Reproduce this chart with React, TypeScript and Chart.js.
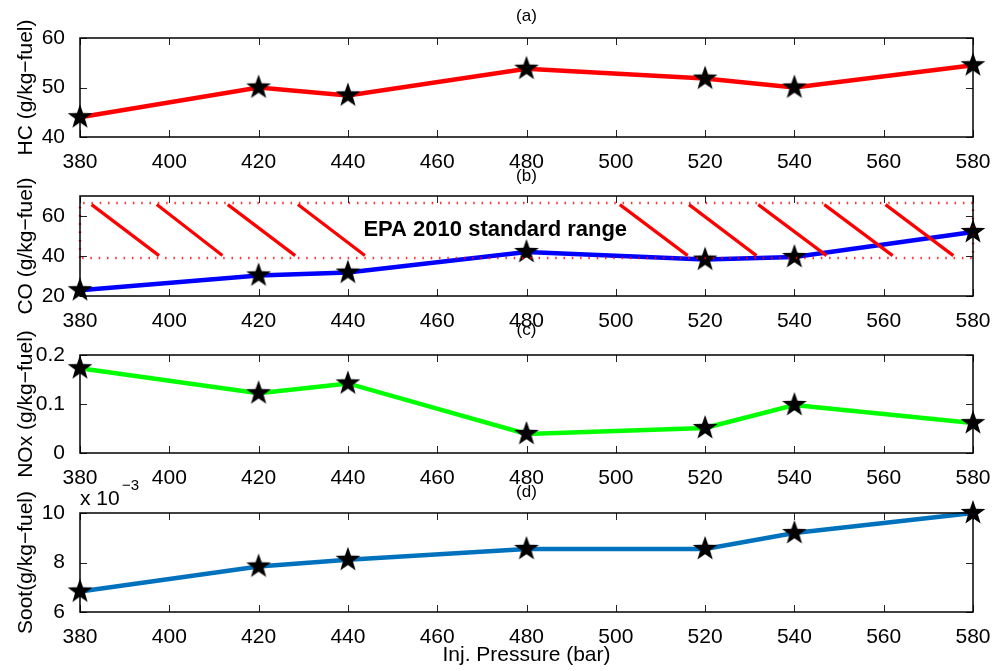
import React, { useEffect, useRef } from 'react';
import { Chart, registerables } from 'chart.js';
Chart.register(...registerables);

// ---------------- DATA ----------------
const PRESSURE = [380, 420, 440, 480, 520, 540, 580];
const HC = [44.0, 50.0, 48.4, 53.8, 51.8, 50.0, 54.5];
const CO = [22.9, 30.3, 31.7, 42.0, 38.2, 39.5, 52.0];
const NOX = [0.173, 0.122, 0.142, 0.039, 0.051, 0.098, 0.061];
const SOOT = [0.00683, 0.00784, 0.00811, 0.00855, 0.00855, 0.00919, 0.0100];

const X_TICKS = [380, 400, 420, 440, 460, 480, 500, 520, 540, 560, 580];
const X_TICK_LABELS = ['380', '400', '420', '440', '460', '480', '500', '520', '540', '560', '580'];
const HC_TICKS = [40, 50, 60];
const HC_TICK_LABELS = ['40', '50', '60'];
const CO_TICKS = [20, 40, 60];
const CO_TICK_LABELS = ['20', '40', '60'];
const NOX_TICKS = [0, 0.1, 0.2];
const NOX_TICK_LABELS = ['0', '0.1', '0.2'];
const SOOT_TICKS = [0.006, 0.008, 0.010];
const SOOT_TICK_LABELS = ['6', '8', '10'];

// EPA 2010 standard range (CO)
const EPA_LOW = 39;
const EPA_HIGH = 66.5;
const HATCH_START = [382.6, 397.2, 413.1, 428.8, 500.9, 516.4, 531.9, 546.7, 560.4];
const HATCH_END = [397.7, 411.9, 428.2, 443.8, 516.1, 531.5, 547.2, 562.0, 575.6];
const HATCH_TOP = 65.7;
const HATCH_BOTTOM = 40.2;
const EPA_LABEL = 'EPA 2010 standard range';
const EPA_LABEL_X = 473;
const EPA_LABEL_Y = 53;

// ---------------- LAYOUT / STYLE ----------------
const W = 996;
const H = 671;
const LEFT = 80;
const RIGHT = 973;
const YW = 60;
const XH = 34;
const FONT = '"Liberation Sans", Arial, Helvetica, sans-serif';

function makeStar(r: number) {
  const c = document.createElement('canvas');
  const s = Math.ceil(r * 2 + 4);
  c.width = s;
  c.height = s;
  const ctx = c.getContext('2d')!;
  ctx.translate(s / 2, s / 2);
  ctx.beginPath();
  const ri = r * 0.4;
  for (let i = 0; i < 10; i++) {
    const rad = i % 2 === 0 ? r : ri;
    const a = -Math.PI / 2 + (i * Math.PI) / 5;
    const x = rad * Math.cos(a);
    const y = rad * Math.sin(a);
    if (i === 0) ctx.moveTo(x, y);
    else ctx.lineTo(x, y);
  }
  ctx.closePath();
  ctx.fillStyle = '#000';
  ctx.fill();
  return c;
}

type Panel = {
  top: number;
  bottom: number;
  values: number[];
  color: string;
  yMin: number;
  yMax: number;
  yTicks: number[];
  yLabels: string[];
  title: string;
  titleY: number;
  yTitle: string;
  extra?: 'epa';
  exponent?: boolean;
  xTitle?: boolean;
};

const PANELS: Panel[] = [
  { top: 38, bottom: 137, values: HC, color: '#ff0000', yMin: 40, yMax: 60, yTicks: HC_TICKS, yLabels: HC_TICK_LABELS, title: '(a)', titleY: 16, yTitle: 'HC (g/kg\u2212fuel)' },
  { top: 196, bottom: 296, values: CO, color: '#0000ff', yMin: 20, yMax: 70, yTicks: CO_TICKS, yLabels: CO_TICK_LABELS, title: '(b)', titleY: 176, yTitle: 'CO (g/kg\u2212fuel)', extra: 'epa' },
  { top: 355, bottom: 453, values: NOX, color: '#00ff00', yMin: 0, yMax: 0.2, yTicks: NOX_TICKS, yLabels: NOX_TICK_LABELS, title: '(c)', titleY: 330, yTitle: 'NOx (g/kg\u2212fuel)' },
  { top: 513, bottom: 612, values: SOOT, color: '#0072BD', yMin: 0.006, yMax: 0.010, yTicks: SOOT_TICKS, yLabels: SOOT_TICK_LABELS, title: '(d)', titleY: 492, yTitle: 'Soot(g/kg\u2212fuel)', exponent: true, xTitle: true },
];

const framePlugin = {
  id: 'frame',
  afterDatasetsDraw(chart: any) {
    const { ctx, chartArea } = chart;
    const { left, right, top, bottom } = chartArea;
    const xs = chart.scales.x;
    const ys = chart.scales.y;
    ctx.save();
    ctx.strokeStyle = '#222';
    ctx.lineWidth = 1;
    const TL = 7;
    ctx.beginPath();
    xs.ticks.forEach((t: any) => {
      const px = Math.round(xs.getPixelForValue(t.value)) + 0.5;
      ctx.moveTo(px, bottom);
      ctx.lineTo(px, bottom - TL);
      ctx.moveTo(px, top);
      ctx.lineTo(px, top + TL);
    });
    ys.ticks.forEach((t: any) => {
      const py = Math.round(ys.getPixelForValue(t.value)) + 0.5;
      ctx.moveTo(left, py);
      ctx.lineTo(left + TL, py);
      ctx.moveTo(right, py);
      ctx.lineTo(right - TL, py);
    });
    ctx.stroke();
    ctx.strokeStyle = '#000';
    ctx.lineWidth = 1.5;
    ctx.strokeRect(left, top, right - left, bottom - top);
    ctx.restore();
  },
};

function textPlugin(p: Panel) {
  return {
    id: 'texts',
    afterDraw(chart: any) {
      const { ctx, chartArea } = chart;
      ctx.save();
      ctx.fillStyle = '#000';
      // panel title
      ctx.font = `17px ${FONT}`;
      ctx.textAlign = 'center';
      ctx.textBaseline = 'middle';
      ctx.fillText(p.title, (chartArea.left + chartArea.right) / 2, p.titleY);
      // y title
      ctx.save();
      ctx.font = `21px ${FONT}`;
      ctx.translate(26, (chartArea.top + chartArea.bottom) / 2);
      ctx.rotate(-Math.PI / 2);
      ctx.fillText(p.yTitle, 0, 0);
      ctx.restore();
      if (p.extra === 'epa') {
        const xs = chart.scales.x;
        const ys = chart.scales.y;
        ctx.font = `bold 22px ${FONT}`;
        ctx.textAlign = 'center';
        ctx.fillText(EPA_LABEL, xs.getPixelForValue(EPA_LABEL_X), ys.getPixelForValue(EPA_LABEL_Y));
      }
      if (p.exponent) {
        ctx.textAlign = 'left';
        ctx.textBaseline = 'alphabetic';
        ctx.font = `21px ${FONT}`;
        ctx.fillText('x 10', chartArea.left, 505);
        ctx.font = `15px ${FONT}`;
        ctx.fillText('\u22123', chartArea.left + 42, 490);
      }
      if (p.xTitle) {
        ctx.font = `21px ${FONT}`;
        ctx.textAlign = 'center';
        ctx.textBaseline = 'middle';
        ctx.fillText('Inj. Pressure (bar)', (chartArea.left + chartArea.right) / 2, 655);
      }
      ctx.restore();
    },
  };
}

function buildConfig(p: Panel, star: HTMLCanvasElement): any {
  const datasets: any[] = [];
  if (p.extra === 'epa') {
    datasets.push({
      data: [
        { x: 380, y: EPA_LOW },
        { x: 380, y: EPA_HIGH },
        { x: 580, y: EPA_HIGH },
        { x: 580, y: EPA_LOW },
        { x: 380, y: EPA_LOW },
      ],
      borderColor: 'rgba(255,0,0,0.8)',
      borderWidth: 2.5,
      borderDash: [1.5, 6.8],
      pointRadius: 0,
      fill: false,
      clip: false,
      order: 1,
    });
    HATCH_START.forEach((x0, i) => {
      datasets.push({
        data: [
          { x: x0, y: HATCH_TOP },
          { x: HATCH_END[i], y: HATCH_BOTTOM },
        ],
        borderColor: '#ff0000',
        borderWidth: 3.2,
        pointRadius: 0,
        fill: false,
        clip: false,
        order: 0,
      });
    });
  }
  datasets.push({
    data: PRESSURE.map((x, i) => ({ x, y: p.values[i] })),
    borderColor: p.color,
    borderWidth: 4.5,
    pointStyle: star,
    pointRadius: 13,
    pointBorderWidth: 0,
    fill: false,
    clip: false,
    order: 2,
  });
  const tickFont = { family: FONT, size: 21 };
  return {
    type: 'line',
    data: { datasets },
    options: {
      animation: false,
      responsive: false,
      events: [],
      layout: {
        padding: { left: LEFT - YW, right: W - RIGHT, top: p.top, bottom: H - p.bottom - XH },
      },
      plugins: { legend: { display: false }, tooltip: { enabled: false }, title: { display: false } },
      scales: {
        x: {
          type: 'linear',
          min: 380,
          max: 580,
          afterBuildTicks: (s: any) => {
            s.ticks = X_TICKS.map((v) => ({ value: v }));
          },
          afterFit: (s: any) => {
            s.height = XH;
          },
          grid: { display: false },
          border: { display: false },
          ticks: {
            font: tickFont,
            color: '#000',
            padding: 5,
            maxRotation: 0,
            autoSkip: false,
            callback: (_v: any, i: number) => X_TICK_LABELS[i],
          },
        },
        y: {
          type: 'linear',
          min: p.yMin,
          max: p.yMax,
          afterBuildTicks: (s: any) => {
            s.ticks = p.yTicks.map((v) => ({ value: v }));
          },
          afterFit: (s: any) => {
            s.width = YW;
          },
          grid: { display: false },
          border: { display: false },
          ticks: {
            font: tickFont,
            color: '#000',
            padding: 7,
            autoSkip: false,
            callback: (_v: any, i: number) => p.yLabels[i],
          },
        },
      },
    },
    plugins: [framePlugin, textPlugin(p)],
  };
}

function PanelCanvas({ panel }: { panel: Panel }) {
  const ref = useRef<HTMLCanvasElement | null>(null);
  useEffect(() => {
    if (!ref.current) return;
    const star = makeStar(13);
    const chart = new Chart(ref.current, buildConfig(panel, star));
    return () => chart.destroy();
  }, [panel]);
  return (
    <canvas
      ref={ref}
      width={W}
      height={H}
      style={{ position: 'absolute', left: 0, top: 0, width: W, height: H }}
    />
  );
}

export default function App() {
  return (
    <div style={{ position: 'fixed', left: 0, top: 0, width: W, height: H, background: '#fff' }}>
      {PANELS.map((p, i) => (
        <PanelCanvas key={i} panel={p} />
      ))}
    </div>
  );
}
